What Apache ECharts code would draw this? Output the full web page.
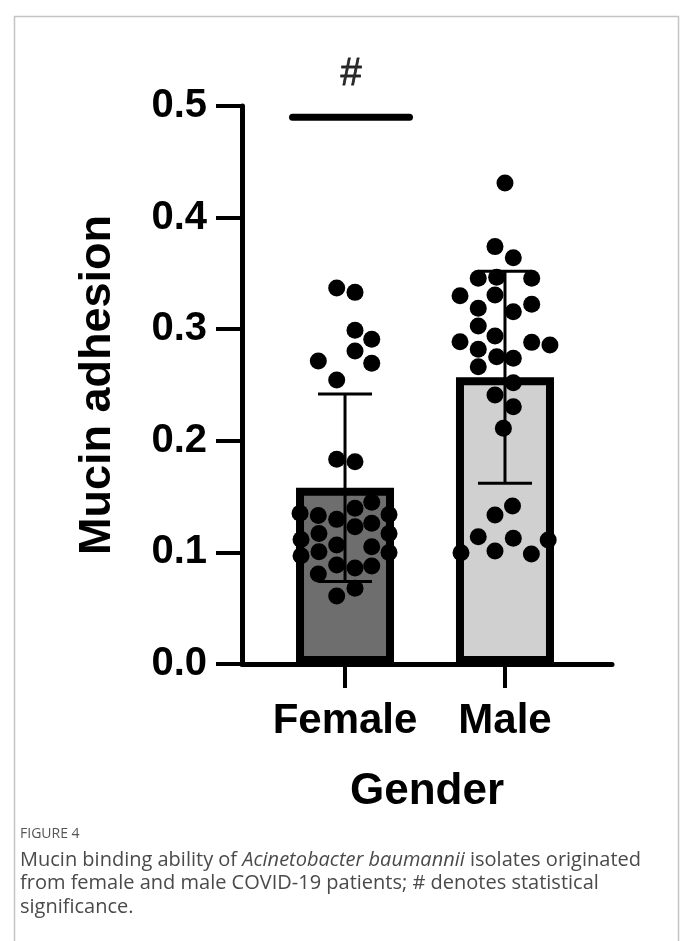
<!DOCTYPE html>
<html>
<head>
<meta charset="utf-8">
<script src="https://cdn.jsdelivr.net/npm/echarts@6.0.0/dist/echarts.min.js"></script>
<style>
html,body{margin:0;padding:0;background:#fff;}
#c{width:681px;height:941px;}
</style>
</head>
<body>
<div id="c"></div>
<script>
// ---- data ----
const categories = ['Female', 'Male'];
const means = [0.158, 0.257];
const sds = [0.084, 0.095];
const yTicks = [0, 0.1, 0.2, 0.3, 0.4, 0.5];

// individual isolates: jitter (fraction of category spacing) and value
const femaleJitter = [-0.052, 0.0625, 0.0625, 0.167, 0.0625, -0.167, 0.167, -0.052, -0.052, 0.0625,
  0.167, 0.0625, -0.281, -0.167, -0.052, 0.275, 0.167, 0.0625, -0.163, -0.275,
  0.275, -0.052, 0.167, -0.163, -0.275, 0.275, -0.052, 0.0625, 0.167, -0.167, 0.0625, -0.052];
const femaleValues = [0.337, 0.333, 0.299, 0.291, 0.2805, 0.2715, 0.2694, 0.2545, 0.1834, 0.1813,
  0.145, 0.1395, 0.135, 0.133, 0.1296, 0.134, 0.1261, 0.123, 0.117, 0.1115,
  0.117, 0.1066, 0.1051, 0.1006, 0.097, 0.100, 0.0887, 0.086, 0.0878, 0.0806, 0.0678, 0.061];
const maleJitter = [0, -0.0625, 0.052, -0.167, -0.052, 0.167, -0.281, -0.0625, 0.167, -0.167,
  0.052, -0.167, -0.281, -0.0625, 0.167, 0.281, -0.167, -0.052, 0.052, -0.167,
  0.052, -0.0625, 0.052, -0.01, 0.047, -0.0625, -0.167, 0.052, 0.27, -0.275, -0.0625, 0.165];
const maleValues = [0.431, 0.374, 0.364, 0.3456, 0.3465, 0.3456, 0.330, 0.3306, 0.3223, 0.3187,
  0.3157, 0.3029, 0.2888, 0.2939, 0.2882, 0.2858, 0.282, 0.2754, 0.2739, 0.2664,
  0.2521, 0.241, 0.2306, 0.2112, 0.1416, 0.1335, 0.1141, 0.1126, 0.1111, 0.0997, 0.1013, 0.0986];

// significance bar (x in category units, y value) and its mark
const sigX = [-0.328, 0.403];
const sigY = 0.49;
const sigMark = '#';

const captionTitle = 'FIGURE 4';
// ------------------------------------

const FONT = '"Liberation Sans", Arial, Helvetica, sans-serif';
const CAP_FONT = '"Open Sans", "Noto Sans", sans-serif';
const barColors = ['#6e6e6e', '#d0d0d0'];

const dots = [];
femaleValues.forEach((v, i) => dots.push([0 + femaleJitter[i], v]));
maleValues.forEach((v, i) => dots.push([1 + maleJitter[i], v]));

const chart = echarts.init(document.getElementById('c'), null, {renderer: 'canvas'});

chart.setOption({
  animation: false,
  backgroundColor: '#fff',
  grid: {left: 242, right: 69, top: 106, bottom: 277, containLabel: false, outerBoundsMode: 'none'},
  xAxis: {
    type: 'value',
    min: -0.644, max: 1.669,
    splitLine: {show: false},
    axisLine: {show: true, onZero: false, lineStyle: {color: '#000', width: 5}},
    axisTick: {show: true, customValues: [0, 1], length: 24, lineStyle: {color: '#000', width: 4}},
    axisLabel: {
      show: true, customValues: [0, 1],
      formatter: v => categories[Math.round(v)] || '',
      color: '#000', fontFamily: FONT, fontWeight: 'bold', fontSize: 42, margin: 36
    },
    name: 'Gender', nameLocation: 'middle', nameGap: 106,
    nameTextStyle: {color: '#000', fontFamily: FONT, fontWeight: 'bold', fontSize: 44}
  },
  yAxis: {
    type: 'value',
    min: 0, max: 0.5, interval: 0.1,
    splitLine: {show: false},
    axisLine: {show: true, onZero: false, lineStyle: {color: '#000', width: 5}},
    axisTick: {show: true, length: 26, lineStyle: {color: '#000', width: 4}},
    axisLabel: {
      formatter: v => v.toFixed(1),
      color: '#000', fontFamily: FONT, fontWeight: 'bold', fontSize: 40, margin: 35
    },
    name: 'Mucin adhesion', nameLocation: 'middle', nameGap: 122,
    nameTextStyle: {color: '#000', fontFamily: FONT, fontWeight: 'bold', fontSize: 45}
  },
  series: [
    {
      type: 'bar',
      barWidth: 98,
      data: means.map((m, i) => ({value: [i, m], itemStyle: {color: barColors[i]}})),
      itemStyle: {borderColor: '#000', borderWidth: 8},
      z: 1
    },
    {
      type: 'custom',
      z: 2,
      data: means.map((m, i) => [i, m - sds[i], m + sds[i]]),
      renderItem: (params, api) => {
        const x = api.value(0);
        const lo = api.coord([x, api.value(1)]);
        const hi = api.coord([x, api.value(2)]);
        const hw = 27;
        const st = {stroke: '#000', lineWidth: 3};
        return {
          type: 'group',
          children: [
            {type: 'line', shape: {x1: lo[0], y1: lo[1], x2: hi[0], y2: hi[1]}, style: st},
            {type: 'line', shape: {x1: lo[0] - hw, y1: lo[1], x2: lo[0] + hw, y2: lo[1]}, style: st},
            {type: 'line', shape: {x1: hi[0] - hw, y1: hi[1], x2: hi[0] + hw, y2: hi[1]}, style: st}
          ]
        };
      }
    },
    {
      type: 'scatter',
      z: 3,
      symbolSize: 17,
      itemStyle: {color: '#000', opacity: 1},
      data: dots
    },
    {
      type: 'line',
      z: 4,
      symbol: 'none',
      data: [[sigX[0], sigY], [sigX[1], sigY]],
      lineStyle: {color: '#000', width: 7, cap: 'round'}
    },
    {
      type: 'scatter',
      z: 4,
      symbolSize: 2,
      clip: false,
      itemStyle: {color: 'rgba(0,0,0,0)'},
      data: [[(sigX[0] + sigX[1]) / 2, sigY]],
      label: {
        show: true, position: 'top', distance: 23, formatter: sigMark,
        color: '#000', fontFamily: FONT, fontSize: 38, fontWeight: 'normal',
        textBorderColor: '#000', textBorderWidth: 0.8
      },
      labelLayout: {hideOverlap: false}
    }
  ],
  graphic: [
    {
      type: 'polyline', silent: true,
      shape: {points: [[14.5, 941], [14.5, 16.5], [678.5, 16.5], [678.5, 941]]},
      style: {stroke: '#c4c4c4', lineWidth: 1.5, fill: null}
    },
    {
      type: 'text', left: 20, top: 827,
      style: {text: captionTitle, fill: '#555', font: '14px ' + CAP_FONT}
    },
    {
      type: 'text', left: 20, top: 850,
      style: {
        rich: {
          n: {fill: '#4a4a4a', fontFamily: CAP_FONT, fontSize: 20, lineHeight: 23.5},
          i: {fill: '#4a4a4a', fontFamily: CAP_FONT, fontSize: 20, fontStyle: 'italic', lineHeight: 23.5}
        },
        text: '{n|Mucin binding ability of }{i|Acinetobacter baumannii}{n| isolates originated}\n' +
              '{n|from female and male COVID-19 patients; # denotes statistical}\n' +
              '{n|significance.}'
      }
    }
  ]
});
</script>
</body>
</html>
